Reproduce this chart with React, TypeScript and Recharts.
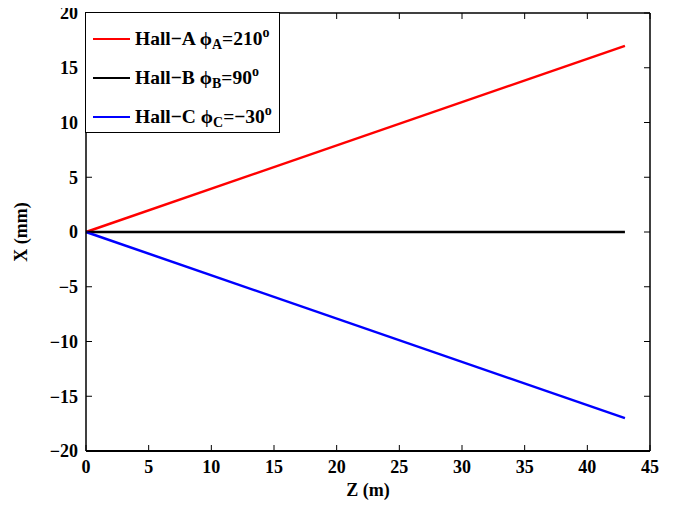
import { Line, LineChart, XAxis, YAxis } from "recharts"

// Z position along the beamline (m)
const Z_M = [0, 43]
// horizontal offset X (mm) for each hall
const HALL_A = [0, 17]
const HALL_B = [0, 0]
const HALL_C = [0, -17]

const X_TICKS = [0, 5, 10, 15, 20, 25, 30, 35, 40, 45]
const Y_TICKS = [-20, -15, -10, -5, 0, 5, 10, 15, 20]

const HALLS = [
  { key: "hallA", name: "Hall\u2212A", sub: "A", angle: "=210", color: "#ff0000" },
  { key: "hallB", name: "Hall\u2212B", sub: "B", angle: "=90", color: "#000000" },
  { key: "hallC", name: "Hall\u2212C", sub: "C", angle: "=\u221230", color: "#0000ff" },
]

const FONT = "'Liberation Serif', 'DejaVu Serif', serif"

const data = Z_M.map((z, i) => ({
  z,
  hallA: HALL_A[i],
  hallB: HALL_B[i],
  hallC: HALL_C[i],
}))

const tickStyle = { fontSize: 18, fontWeight: 700, fill: "#000", fontFamily: FONT }
const noLabel = () => <g />
const minus = (v: number) => String(v).replace("-", "\u2212")
const frameTick = { stroke: "#000", strokeWidth: 1 }

function HallLegend() {
  return (
    <div
      style={{
        position: "absolute",
        left: 85,
        top: 12,
        width: 195,
        height: 121,
        boxSizing: "border-box",
        border: "1.5px solid #000",
        background: "#fff",
        fontFamily: FONT,
        fontWeight: 700,
        fontSize: 19.5,
        color: "#000",
      }}
    >
      {HALLS.map((h, i) => (
        <div
          key={h.key}
          style={{
            position: "absolute",
            left: 7,
            top: 9 + i * 39,
            display: "flex",
            alignItems: "center",
            whiteSpace: "nowrap",
            lineHeight: "22px",
          }}
        >
          <span style={{ display: "inline-block", width: 37, height: 0, borderTop: `2px solid ${h.color}`, marginRight: 5 }} />
          <span>
            {h.name} {"\u03d5"}
            <sub style={{ fontSize: 14 }}>{h.sub}</sub>
            {h.angle}
            <sup style={{ fontSize: 14 }}>o</sup>
          </span>
        </div>
      ))}
    </div>
  )
}

export default function App() {
  return (
    <div style={{ position: "relative", margin: -8, width: 686, height: 508, background: "#fff" }}>
      <LineChart width={686} height={508} data={data} margin={{ top: 13, right: 36, bottom: 0, left: 0 }}>
        {/* labelled axes */}
        <XAxis
          xAxisId="bottom"
          dataKey="z"
          type="number"
          domain={[0, 45]}
          ticks={X_TICKS}
          interval={0}
          height={57}
          tickLine={false}
          tickMargin={3}
          tick={tickStyle}
          axisLine={{ stroke: "#000", strokeWidth: 2 }}
          label={{ value: "Z (m)", position: "insideBottom", offset: 12, style: tickStyle }}
        />
        <YAxis
          yAxisId="left"
          type="number"
          domain={[-20, 20]}
          ticks={Y_TICKS}
          interval={0}
          width={86}
          tickLine={false}
          tickMargin={2}
          tick={tickStyle}
          tickFormatter={minus}
          axisLine={{ stroke: "#000", strokeWidth: 1.5 }}
          label={{ value: "X (mm)", angle: -90, position: "insideLeft", offset: 21, style: { ...tickStyle, textAnchor: "middle" } }}
        />
        {/* inward tick marks on all four sides */}
        <XAxis xAxisId="bIn" dataKey="z" type="number" domain={[0, 45]} allowDataOverflow ticks={X_TICKS} interval={0} mirror tickSize={6} tick={noLabel} tickLine={frameTick} axisLine={false} />
        <XAxis xAxisId="tIn" orientation="top" dataKey="z" type="number" domain={[0, 45]} allowDataOverflow ticks={X_TICKS} interval={0} mirror tickSize={6} tick={noLabel} tickLine={frameTick} axisLine={{ stroke: "#000", strokeWidth: 1.5 }} />
        <YAxis yAxisId="lIn" type="number" domain={[-20, 20]} allowDataOverflow ticks={Y_TICKS} interval={0} mirror tickSize={6} tick={noLabel} tickLine={frameTick} axisLine={false} />
        <YAxis yAxisId="rIn" orientation="right" type="number" domain={[-20, 20]} allowDataOverflow ticks={Y_TICKS} interval={0} mirror tickSize={6} tick={noLabel} tickLine={frameTick} axisLine={{ stroke: "#000", strokeWidth: 1.5 }} />
        {/* unstroked series that bind the frame axes to data */}
        <Line xAxisId="bIn" yAxisId="lIn" dataKey="hallB" stroke="none" dot={false} legendType="none" isAnimationActive={false} />
        <Line xAxisId="tIn" yAxisId="rIn" dataKey="hallB" stroke="none" dot={false} legendType="none" isAnimationActive={false} />
        {HALLS.map((h) => (
          <Line
            key={h.key}
            xAxisId="bottom"
            yAxisId="left"
            type="linear"
            dataKey={h.key}
            stroke={h.color}
            strokeWidth={2.5}
            dot={false}
            isAnimationActive={false}
          />
        ))}
      </LineChart>
      <HallLegend />
    </div>
  )
}
